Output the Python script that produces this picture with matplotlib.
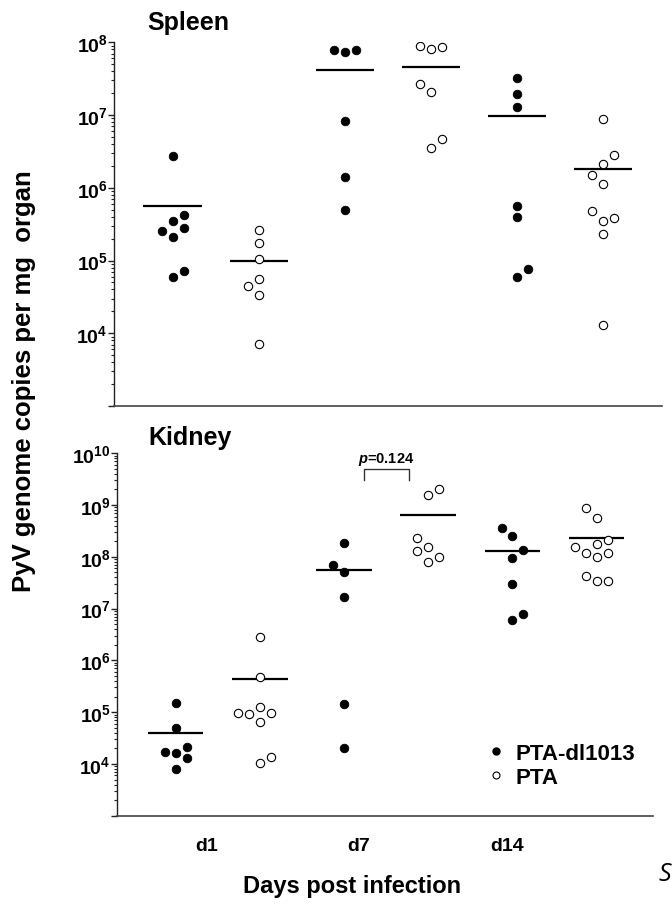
import numpy as np
import matplotlib
matplotlib.use("Agg")
import matplotlib.pyplot as plt
from matplotlib.ticker import LogLocator, NullFormatter
from matplotlib.lines import Line2D

plt.rcParams['font.family'] = ['Liberation Sans', 'DejaVu Sans']
plt.rcParams['font.weight'] = 'bold'
plt.rcParams['mathtext.fontset'] = 'custom'
plt.rcParams['mathtext.rm'] = 'Liberation Sans:bold'
plt.rcParams['mathtext.it'] = 'Liberation Sans:bold:italic'
plt.rcParams['mathtext.bf'] = 'Liberation Sans:bold'
plt.rcParams['mathtext.default'] = 'rm'

# ---------------- data ----------------
days = ['d1', 'd7', 'd14']
series_names = ['PTA-dl1013', 'PTA']

# Spleen (genome copies per mg)
spleen_dl_d1 = [2.77e6, 4.25e5, 3.45e5, 2.56e5, 2.79e5, 2.08e5, 7.2e4, 5.97e4]
spleen_pta_d1 = [2.64e5, 1.72e5, 1.04e5, 5.55e4, 4.4e4, 3.37e4, 7.08e3]
spleen_dl_d7 = [7.91e7, 7.28e7, 7.91e7, 8.19e6, 1.39e6, 4.98e5]
spleen_pta_d7 = [8.9e7, 8.09e7, 8.7e7, 2.64e7, 2.05e7, 4.63e6, 3.52e6]
spleen_dl_d14 = [3.23e7, 1.95e7, 1.3e7, 5.66e5, 3.92e5, 7.62e4, 5.86e4]
spleen_pta_d14 = [8.81e6, 2.85e6, 2.12e6, 1.5e6, 1.12e6, 4.83e5, 3.52e5, 3.83e5, 2.31e5, 1.31e4]
spleen_means = [5.66e5, 9.8e4, 4.16e7, 4.53e7, 9.6e6, 1.81e6]

# Kidney
kidney_dl_d1 = [1.48e5, 5.03e4, 1.73e4, 1.61e4, 2.1e4, 1.29e4, 8.0e3]
kidney_pta_d1 = [2.8e6, 4.68e5, 1.28e5, 9.5e4, 9.08e4, 9.5e4, 6.35e4, 1.03e4, 1.36e4]
kidney_dl_d7 = [1.84e8, 6.83e7, 5.09e7, 1.68e7, 1.43e5, 2.07e4]
kidney_pta_d7 = [1.59e9, 2.05e9, 2.33e8, 1.58e8, 1.27e8, 9.9e7, 7.94e7]
kidney_dl_d14 = [3.59e8, 2.58e8, 1.37e8, 9.62e7, 2.94e7, 7.77e6, 6.14e6]
kidney_pta_d14 = [8.71e8, 5.74e8, 2.16e8, 1.79e8, 1.55e8, 1.2e8, 1.2e8, 9.9e7, 4.19e7, 3.36e7, 3.45e7]
kidney_means = [4.03e4, 4.29e5, 5.47e7, 6.3e8, 1.31e8, 2.3e8]

p_label = r'$\mathit{p}$=0.124'

# ---------------- layout (jitter slots, not data) ----------------
spleen_slots = [[0, 1, 0, -1, 1, 0, 1, 0], [0, 0, 0, 0, -1, 0, 0],
                [-1, 0, 1, 0, 0, 0], [-1, 0, 1, -1, 0, 1, 0],
                [0, 0, 0, 0, 0, 1, 0], [0, 1, 0, -1, 0, -1, 0, 1, 0, 0]]
kidney_slots = [[0, 0, -1, 0, 1, 1, 0], [0, 0, 0, -2, -1, 1, 0, 0, 1],
                [0, -1, 0, 0, 0, 0], [0, 1, -1, 0, -1, 1, 0],
                [-1, 0, 1, 0, 0, 1, 0], [-1, 0, 1, 0, -2, -1, 1, 0, -1, 0, 1]]

spleen_groups = [spleen_dl_d1, spleen_pta_d1, spleen_dl_d7, spleen_pta_d7, spleen_dl_d14, spleen_pta_d14]
kidney_groups = [kidney_dl_d1, kidney_pta_d1, kidney_dl_d7, kidney_pta_d7, kidney_dl_d14, kidney_pta_d14]

W, H = 672, 912
fig = plt.figure(figsize=(W / 100, H / 100), dpi=100)

def px_axes(x0, x1, ytop, ybot):
    return fig.add_axes([x0 / W, 1 - ybot / H, (x1 - x0) / W, (ybot - ytop) / H])

ax1 = px_axes(114, 662, 43.3, 407)
ax2 = px_axes(117, 653, 454.3, 816.7)

def draw_panel(ax, groups, slots, means, step, halfw):
    for i, (vals, sl) in enumerate(zip(groups, slots)):
        pos = i + 1
        xs = [pos + s * step for s in sl]
        if i % 2 == 0:
            ax.scatter(xs, vals, s=38, facecolor='black', edgecolor='black', linewidth=0.6, zorder=3)
        else:
            ax.scatter(xs, vals, s=36, facecolor='white', edgecolor='black', linewidth=0.8, zorder=3)
        ax.plot([pos - halfw, pos + halfw], [means[i], means[i]], color='black', lw=1.6, zorder=2,
                solid_capstyle='butt')

draw_panel(ax1, spleen_groups, spleen_slots, spleen_means, 0.128, 0.34)
draw_panel(ax2, kidney_groups, kidney_slots, kidney_means, 0.13, 0.33)

def style_axis(ax, lo, hi, xlim):
    ax.set_yscale('log')
    ax.set_ylim(10.0 ** lo, 10.0 ** hi)
    ax.set_xlim(*xlim)
    for s in ['top', 'right']:
        ax.spines[s].set_visible(False)
    ax.spines['left'].set_linewidth(1.0)
    ax.spines['left'].set_color('#222222')
    ax.spines['bottom'].set_linewidth(1.2)
    ax.spines['bottom'].set_color('#444444')
    exps = list(range(lo, hi + 1))
    ax.set_yticks([10.0 ** e for e in exps])
    ax.set_yticklabels([''] + ['$10^{%d}$' % e for e in exps[1:]])
    ax.yaxis.set_minor_locator(LogLocator(base=10, subs=np.arange(2, 10), numticks=50))
    ax.yaxis.set_minor_formatter(NullFormatter())
    ax.tick_params(axis='y', which='major', length=4, width=1.0, pad=0.5, labelsize=14, color='#222222')
    ax.tick_params(axis='y', which='minor', length=2.2, width=0.8, color='#222222')

style_axis(ax1, 3, 8, (0.318, 6.683))
style_axis(ax2, 3, 10, (0.303, 6.669))

ax1.set_xticks([])
ax2.set_xticks([1.37, 3.17, 4.93])
ax2.set_xticklabels(days)
ax2.tick_params(axis='x', length=0, pad=15, labelsize=14)

# p-value bracket (kidney d7)
bx0, bx1 = 3.24, 3.77
by_top, by_bot = 4.99e9, 3.06e9
ax2.plot([bx0, bx0, bx1, bx1], [by_bot, by_top, by_top, by_bot], color='#333333', lw=1.0)
ax2.text((bx0 + bx1) / 2, 8.0e9, p_label, ha='center', va='center', fontsize=10.5, fontweight='bold')

# titles and labels
fig.text(188.5 / W, 1 - 23 / H, 'Spleen', ha='center', va='center', fontsize=18, fontweight='bold')
fig.text(190.5 / W, 1 - 438 / H, 'Kidney', ha='center', va='center', fontsize=18, fontweight='bold')
fig.text(24 / W, 1 - 381 / H, 'PyV genome copies per mg  organ', rotation=90,
         ha='center', va='center', fontsize=18.5, fontweight='bold')
fig.text(351.7 / W, 1 - 886.7 / H, 'Days post infection', ha='center', va='center',
         fontsize=17, fontweight='bold')
fig.text(659 / W, 1 - 875 / H, 'S', ha='left', va='center', fontsize=18,
         fontweight='normal', style='italic', family=['Open Sans', 'DejaVu Sans'])

# legend
handles = [Line2D([], [], linestyle='none', marker='o', markersize=5, markerfacecolor='black',
                  markeredgecolor='black'),
           Line2D([], [], linestyle='none', marker='o', markersize=5, markerfacecolor='white',
                  markeredgecolor='black', markeredgewidth=0.8)]
fig.legend(handles, series_names, loc='upper left', bbox_to_anchor=(490 / W, 1 - 744 / H),
           frameon=False, handlelength=0.55, handletextpad=0.6, borderpad=0, borderaxespad=0,
           labelspacing=0.12, prop={'size': 16, 'weight': 'bold'})

fig.savefig('out.png', dpi=100)
